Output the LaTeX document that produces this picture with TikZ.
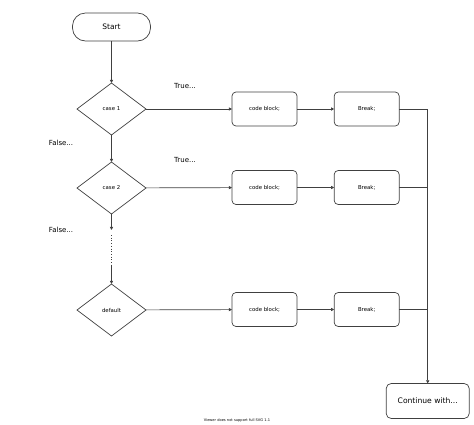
\documentclass[tikz,border=0pt]{standalone}
\usepackage{fontspec}
\setmainfont{DejaVu Sans}
\usetikzlibrary{shapes.geometric,arrows.meta}
\begin{document}
\begin{tikzpicture}[x=1pt,y=-1pt,
  every node/.style={inner sep=0pt, outer sep=0pt, text=black},
  line/.style={draw=black!75, line width=0.7pt},
  arr/.style={line, -{Triangle[length=3.2pt,width=3.2pt]}},
  pill/.style={line, rectangle, rounded corners=13pt, minimum width=78pt, minimum height=28pt, font=\fontsize{7.5}{9}\selectfont},
  decision/.style={line, diamond, minimum width=69pt, minimum height=52pt, font=\fontsize{5.4}{6.5}\selectfont},
  block/.style={line, rectangle, rounded corners=4pt, minimum width=65pt, minimum height=34pt, font=\fontsize{5.4}{6.5}\selectfont},
  endbox/.style={line, rectangle, rounded corners=5pt, minimum width=83pt, minimum height=35pt, font=\fontsize{7.6}{9}\selectfont},
  lbl/.style={font=\fontsize{7}{8.5}\selectfont}
]
\useasboundingbox (0,0) rectangle (474,424);

\node[pill] (start) at (111.5,27) {Start};
\node[decision] (c1) at (111.5,109) {case 1};
\node[decision] (c2) at (111.5,188) {case 2};
\node[decision] (def) at (111.5,310) {default};

\node[block] (cb1) at (264.5,109) {code block;};
\node[block] (cb2) at (264.5,187.5) {code block;};
\node[block] (cb3) at (264.5,309.5) {code block;};

\node[block] (br1) at (366.7,109) {Break;};
\node[block] (br2) at (366.7,187.5) {Break;};
\node[block] (br3) at (366.7,309.5) {Break;};

\node[endbox] (cont) at (427.7,401) {Continue with...};

\node[lbl] (t1) at (185,86) {True...};
\node[lbl] (t2) at (185,160) {True...};
\node[lbl] (f1) at (61,143) {False...};
\node[lbl] (f2) at (61,230) {False...};

\node[font=\fontsize{3.6}{4}\selectfont] (foot) at (237,420.5) {Viewer does not support full SVG 1.1};

\draw[arr] (start) -- (c1);
\draw[arr] (c1) -- (c2);
\draw[arr] (c1) -- (cb1);
\draw[arr] (c2) -- (cb2);
\draw[arr] (def) -- (cb3);
\draw[arr] (cb1) -- (br1);
\draw[arr] (cb2) -- (br2);
\draw[arr] (cb3) -- (br3);

\coordinate (d1) at (111.5,230);
\coordinate (d2) at (111.5,235);
\coordinate (d3) at (111.5,265);
\draw[arr] (c2) -- (d1);
\draw[line, dotted] (d2) -- (d3);
\draw[arr] (d3) -- (def);

\draw[arr] (br1) -| (cont);
\draw[line] (br2.east) -- (br2.east -| cont);
\draw[line] (br3.east) -- (br3.east -| cont);
\end{tikzpicture}
\end{document}
